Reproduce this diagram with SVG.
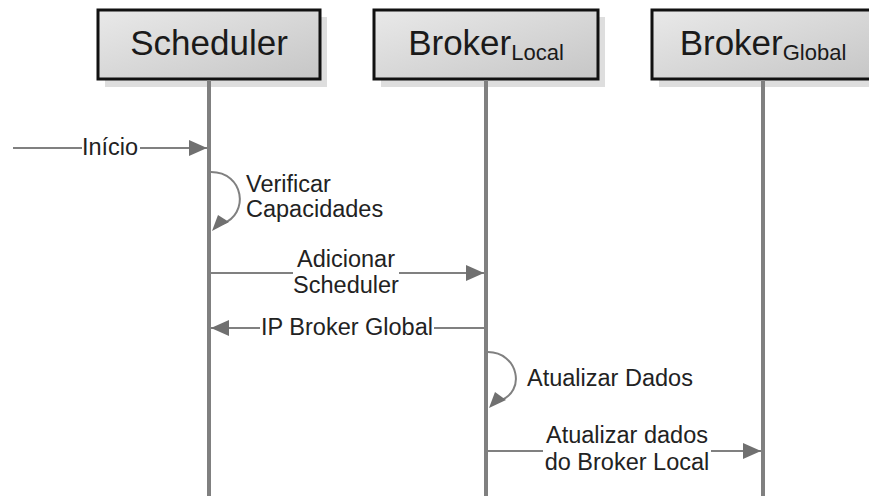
<svg xmlns="http://www.w3.org/2000/svg" width="869" height="498" viewBox="0 0 869 498">
  <defs>
    <linearGradient id="boxFill" x1="0" y1="0" x2="1" y2="1">
      <stop offset="0" stop-color="#e9e9e9"/>
      <stop offset="1" stop-color="#c6c6c6"/>
    </linearGradient>
    <marker id="arrow" markerUnits="userSpaceOnUse" markerWidth="20" markerHeight="18" refX="18" refY="8" orient="auto">
      <path d="M0,0 L18,8 L0,16 z" fill="#707070"/>
    </marker>
    <style>
      .shadow { fill: #dedede; }
      .box { fill: url(#boxFill); stroke: #111; stroke-width: 3; }
      .title { font-family: "Liberation Sans", Arial, sans-serif; font-size: 35px; fill: #1a1a1a; text-anchor: middle; }
      .sub { font-size: 22px; }
      .lifeline { stroke: #808080; stroke-width: 4; fill: none; }
      .msg { stroke: #808080; stroke-width: 2; fill: none; }
      .head { fill: #707070; }
      .label { font-family: "Liberation Sans", Arial, sans-serif; font-size: 23.5px; fill: #222; }
      .mid { text-anchor: middle; }
      .bg { fill: #fff; }
    </style>
  </defs>

  <rect width="869" height="498" fill="#fff"/>

  <!-- participants -->
  <g id="scheduler">
    <rect class="shadow" x="105" y="17" width="222" height="70"/>
    <rect class="box" x="98" y="10" width="222" height="69"/>
    <text class="title" x="209" y="55">Scheduler</text>
    <line class="lifeline" x1="209" y1="80" x2="209" y2="496"/>
  </g>

  <g id="broker-local">
    <rect class="shadow" x="381" y="17" width="224" height="70"/>
    <rect class="box" x="374" y="10" width="224" height="69"/>
    <text class="title" x="486" y="55">Broker<tspan class="sub" dy="5">Local</tspan></text>
    <line class="lifeline" x1="486" y1="80" x2="486" y2="496"/>
  </g>

  <g id="broker-global">
    <rect class="shadow" x="659" y="17" width="224" height="70"/>
    <rect class="box" x="652" y="10" width="224" height="69"/>
    <text class="title" x="763" y="55">Broker<tspan class="sub" dy="5">Global</tspan></text>
    <line class="lifeline" x1="763" y1="80" x2="763" y2="496"/>
  </g>

  <!-- messages -->
  <g id="connectors">
    <!-- Início -->
    <line class="msg" x1="13" y1="148" x2="207" y2="148" marker-end="url(#arrow)"/>
    <rect class="bg" x="82" y="136" width="58" height="24"/>
    <text class="label mid" x="110" y="155">Início</text>

    <!-- Verificar Capacidades (self call) -->
    <path class="msg" d="M211,172 C244,172 250,214 222,224"/>
    <polygon class="head" points="212,231 218,215 229,222"/>
    <text class="label" x="246" y="192">Verificar</text>
    <text class="label" x="246" y="217">Capacidades</text>

    <!-- Adicionar Scheduler -->
    <line class="msg" x1="211" y1="273" x2="484" y2="273" marker-end="url(#arrow)"/>
    <rect class="bg" x="293" y="244" width="106" height="56"/>
    <text class="label mid" x="346" y="267">Adicionar</text>
    <text class="label mid" x="346" y="293">Scheduler</text>

    <!-- IP Broker Global -->
    <line class="msg" x1="484" y1="328" x2="211" y2="328" marker-end="url(#arrow)"/>
    <rect class="bg" x="260" y="315" width="174" height="24"/>
    <text class="label mid" x="347" y="335">IP Broker Global</text>

    <!-- Atualizar Dados (self call) -->
    <path class="msg" d="M488,352 C518,352 527,392 499,401"/>
    <polygon class="head" points="489,408 495,392 506,400"/>
    <text class="label" x="527" y="386">Atualizar Dados</text>

    <!-- Atualizar dados do Broker Local -->
    <line class="msg" x1="488" y1="451" x2="761" y2="451" marker-end="url(#arrow)"/>
    <rect class="bg" x="543" y="422" width="168" height="56"/>
    <text class="label mid" x="627" y="443">Atualizar dados</text>
    <text class="label mid" x="627" y="470">do Broker Local</text>
  </g>
</svg>
